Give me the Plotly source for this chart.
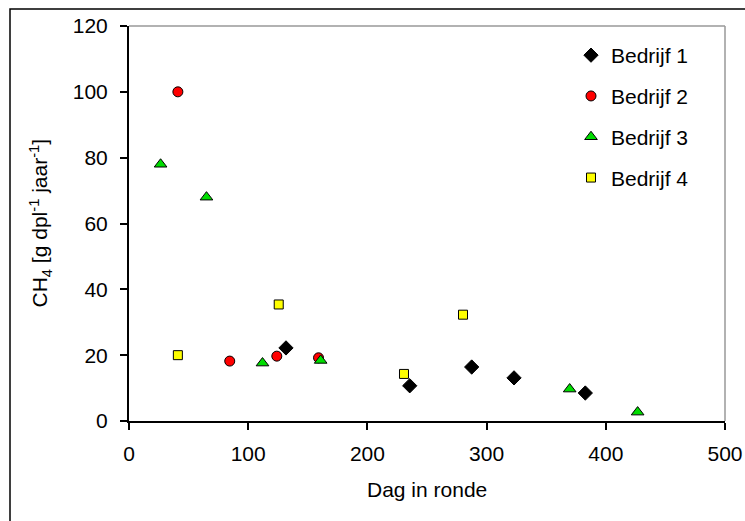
import plotly.graph_objects as go

# Data
b1_x = [131.7, 235.5, 287.5, 323.0, 382.8]
b1_y = [22.2, 10.7, 16.4, 13.1, 8.5]
b2_x = [41.0, 84.5, 124.0, 159.0]
b2_y = [100.0, 18.2, 19.7, 19.2]
b3_x = [26.5, 65.0, 112.0, 160.8, 369.7, 426.7]
b3_y = [78.0, 68.0, 17.6, 18.4, 9.7, 2.7]
b4_x = [41.0, 125.6, 230.7, 280.2]
b4_y = [20.0, 35.4, 14.3, 32.3]

x_ticks = [0, 100, 200, 300, 400, 500]
y_ticks = [0, 20, 40, 60, 80, 100, 120]

FONT = "Liberation Sans, Arial, sans-serif"
OFF = 0  # body margin removed via post_script
W, H = 745, 521
L, T = 129, 26
pw, ph = 596, 395
R = W - L - pw
B = H - T - ph

def px_x(p):
    return (p - OFF - L) / pw

def px_y(p):
    return (OFF + T + ph - p) / ph

fig = go.Figure()
series = [
    ("Bedrijf 1", b1_x, b1_y, "diamond", 11, "black"),
    ("Bedrijf 2", b2_x, b2_y, "circle", 10, "#ff0000"),
    ("Bedrijf 3", b3_x, b3_y, "triangle-up", 11, "#00dd00"),
    ("Bedrijf 4", b4_x, b4_y, "square", 9, "#ffff00"),
]
for i, (name, xs, ys, sym, size, col) in enumerate(series):
    fig.add_trace(go.Scatter(
        x=xs, y=ys, mode="markers", name=name, legendgroup=str(i),
        marker=dict(symbol=sym, size=size, color=col,
                    line=dict(color="black", width=1)),
    ))

fig.update_layout(
    width=W, height=H,
    margin=dict(l=L, r=R, t=T, b=B, autoexpand=False),
    paper_bgcolor="white", plot_bgcolor="white",
    font=dict(family=FONT, size=21, color="black"),
    showlegend=True,
    legend=dict(x=px_x(571), y=px_y(35), xanchor="left", yanchor="top",
                bgcolor="rgba(0,0,0,0)", tracegroupgap=10.5,
                font=dict(size=21)),
    xaxis=dict(range=[0, 500], tickvals=x_ticks, showgrid=False, zeroline=False,
               showline=True, linecolor="black", linewidth=2,
               ticks="outside", ticklen=7, tickwidth=1.5, tickcolor="black",
               ticklabelstandoff=6, ticklabeloverflow="allow", automargin=False),
    yaxis=dict(range=[0, 120], tickvals=y_ticks, showgrid=False, zeroline=False,
               showline=True, linecolor="black", linewidth=2,
               ticks="outside", ticklen=7, tickwidth=1.5, tickcolor="black",
               ticklabelstandoff=8, ticklabeloverflow="allow", automargin=False),
    annotations=[
        dict(text="Dag in ronde", xref="paper", yref="paper",
             x=0.5, y=px_y(489), xanchor="center", yanchor="middle",
             showarrow=False, font=dict(size=21)),
        dict(text="CH<sub>4</sub> [g dpl<sup>-1</sup> jaar<sup>-1</sup>]",
             xref="paper", yref="paper", x=px_x(40), y=0.5,
             xanchor="center", yanchor="middle", textangle=-90,
             showarrow=False, font=dict(size=21)),
    ],
    shapes=[
        dict(type="line", xref="paper", yref="paper", x0=0, x1=1, y0=1, y1=1,
             line=dict(color="#999999", width=1.5)),
        dict(type="line", xref="paper", yref="paper", x0=1, x1=1, y0=0, y1=1,
             line=dict(color="#999999", width=1.5)),
        dict(type="rect", xref="paper", yref="paper",
             x0=px_x(10), x1=px_x(760), y0=px_y(540), y1=px_y(9),
             line=dict(color="black", width=1.5)),
    ],
)

fig.write_html(
    "out.html",
    config={"displayModeBar": False},
    post_script="document.body.style.margin='0';document.body.style.overflow='hidden';",
)
